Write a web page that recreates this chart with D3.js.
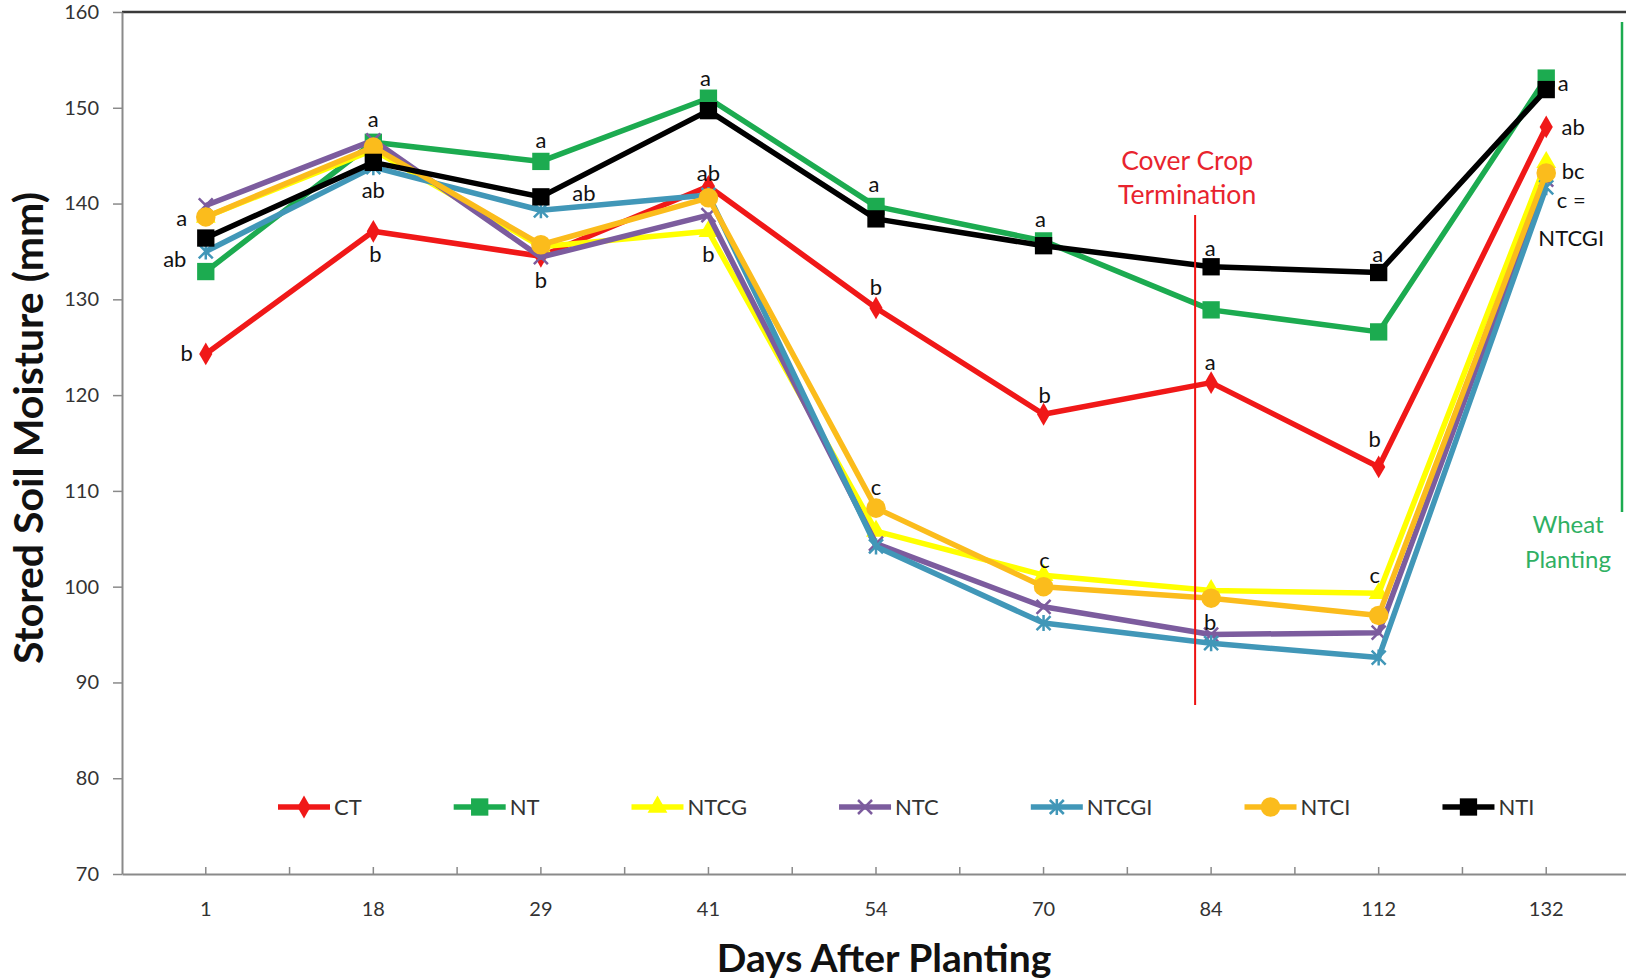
<!DOCTYPE html>
<html>
<head>
<meta charset="utf-8">
<script src="https://cdn.jsdelivr.net/npm/d3@7"></script>
<style>
  html, body { margin: 0; padding: 0; background: #fff; }
  svg { display: block; font-family: Lato, "Noto Sans", sans-serif; }
</style>
</head>
<body>
<svg id="chart" width="1626" height="980"></svg>
<script>
// ---- data ----
const days = ["1", "18", "29", "41", "54", "70", "84", "112", "132"];
const seriesNames = ["CT", "NT", "NTCG", "NTC", "NTCGI", "NTCI", "NTI"];
const CT    = [124.3, 137.1, 134.5, 141.8, 129.1, 118.0, 121.3, 112.5, 148.0];
const NT    = [132.9, 146.4, 144.4, 151.0, 139.7, 136.1, 128.9, 126.6, 153.1];
const NTCG  = [138.6, 145.6, 135.5, 137.1, 105.8, 101.2,  99.6,  99.3, 144.3];
const NTC   = [139.8, 146.6, 134.4, 138.8, 104.5,  97.9,  95.0,  95.2, 142.5];
const NTCGI = [135.0, 143.8, 139.3, 140.9, 104.2,  96.2,  94.1,  92.6, 141.7];
const NTCI  = [138.6, 145.9, 135.7, 140.6, 108.2, 100.0,  98.8,  97.0, 143.2];
const NTI   = [136.4, 144.3, 140.7, 149.7, 138.4, 135.6, 133.4, 132.8, 151.9];
const yTicks = [70, 80, 90, 100, 110, 120, 130, 140, 150, 160];

// significance letters: [day, value position, text, horizontal shift]
const letterDays   = ["1","1","1","18","18","18","29","29","29","41","41","41","54","54","54","70","70","70","84","84","84","112","112","112","132","132","132","132","132"];
const letterValues = [138.5,134.2,124.4,148.8,141.4,134.7,146.6,141.1,132.0,153.1,143.2,134.7,142.0,131.3,110.4,138.4,120.0,102.8,135.3,123.4,96.3,134.7,115.4,101.2,152.6,148.0,143.4,140.3,136.4];
const letterTexts  = ["a","ab","b","a","ab","b","a","ab","b","a","ab","b","a","b","c","a","b","c","a","a","b","a","b","c","a","ab","bc","c =","NTCGI"];
const letterShift  = [-24,-31,-19,0,0,2,0,43,0,-3,0,0,-2,0,0,-3,1,1,-1,-1,-1,-1,-4,-4,17,27,27,25,25];

// ---- layout ----
const svg = d3.select("#chart");
const W = 1626, H = 980;
const x = d3.scaleBand().domain(days).range([122, 1630]).paddingInner(0).paddingOuter(0);
const y = d3.scaleLinear().domain([70, 160]).range([874, 12]);
const cx = d => x(d) + x.bandwidth() / 2;

const colors = {
  CT: "#f01818", NT: "#1cab50", NTCG: "#ffff00", NTC: "#7c5c9e",
  NTCGI: "#4197b8", NTCI: "#fbbc1c", NTI: "#000000"
};
const dataMap = { CT, NT, NTCG, NTC, NTCGI, NTCI, NTI };

// top border
svg.append("line").attr("x1", 122).attr("x2", W).attr("y1", y(160)).attr("y2", y(160))
  .attr("stroke", "#3a3a3a").attr("stroke-width", 2.5);

// y axis
const yAxis = svg.append("g").attr("transform", "translate(122,0)")
  .call(d3.axisLeft(y).tickValues(yTicks).tickSizeInner(9).tickSizeOuter(0).tickPadding(14));
yAxis.select(".domain").attr("stroke", "#8a8a8a").attr("stroke-width", 2);
yAxis.selectAll(".tick line").attr("stroke", "#8a8a8a").attr("stroke-width", 1.5);
yAxis.selectAll(".tick text").attr("font-size", 20).attr("fill", "#333").attr("font-family", "Lato, sans-serif");

// x axis
const xAxis = svg.append("g").attr("transform", `translate(0,${y(70)})`)
  .call(d3.axisBottom(x).tickSizeInner(-7).tickSizeOuter(0).tickPadding(28));
xAxis.select(".domain").attr("stroke", "#8a8a8a").attr("stroke-width", 2);
xAxis.selectAll(".tick line").attr("stroke", "#8a8a8a").attr("stroke-width", 1.5);
xAxis.selectAll(".tick text").attr("font-size", 20).attr("fill", "#333").attr("font-family", "Lato, sans-serif");
// boundary ticks
xAxis.selectAll(".bt").data(days.slice(1)).enter().append("line")
  .attr("x1", d => x(d)).attr("x2", d => x(d)).attr("y1", 0).attr("y2", -7)
  .attr("stroke", "#8a8a8a").attr("stroke-width", 1.5);

// axis titles
svg.append("text").attr("transform", `translate(43,428) rotate(-90)`)
  .attr("text-anchor", "middle").attr("font-weight", "bold").attr("font-size", 41)
  .attr("fill", "#111").text("Stored Soil Moisture (mm)");
svg.append("text").attr("x", 884).attr("y", 972)
  .attr("text-anchor", "middle").attr("font-weight", "bold").attr("font-size", 39)
  .attr("fill", "#111").text("Days After Planting");

// markers
function markerPath(name) {
  switch (name) {
    case "CT": return d3.symbol(d3.symbolDiamond, 150)();
    case "NT": return d3.symbol(d3.symbolSquare, 300)();
    case "NTCG": return d3.symbol(d3.symbolTriangle, 170)();
    case "NTCI": return d3.symbol(d3.symbolCircle, 300)();
    case "NTI": return d3.symbol(d3.symbolSquare, 300)();
    case "NTC": { const s = 7; return `M${-s},${-s}L${s},${s}M${-s},${s}L${s},${-s}`; }
    case "NTCGI": { const s = 7; return `M${-s},${-s}L${s},${s}M${-s},${s}L${s},${-s}M0,${-s - 1}L0,${s + 1}`; }
  }
}
const strokeMarker = n => n === "NTC" || n === "NTCGI";

// lines
const line = d3.line().x((d, i) => cx(days[i])).y(d => y(d));
seriesNames.forEach(name => {
  const g = svg.append("g").attr("class", "series-" + name);
  g.append("path").datum(dataMap[name]).attr("d", line)
    .attr("fill", "none").attr("stroke", colors[name]).attr("stroke-width", 5.5)
    .attr("stroke-linejoin", "round");
  g.selectAll("path.m").data(dataMap[name]).enter().append("path").attr("class", "m")
    .attr("transform", (d, i) => `translate(${cx(days[i])},${y(d)})`)
    .attr("d", markerPath(name))
    .attr("fill", strokeMarker(name) ? "none" : colors[name])
    .attr("stroke", colors[name]).attr("stroke-width", strokeMarker(name) ? 2.5 : 0);
});

// significance letters
svg.append("g").selectAll("text").data(letterTexts).enter().append("text")
  .attr("x", (t, i) => cx(letterDays[i]) + letterShift[i])
  .attr("y", (t, i) => y(letterValues[i]))
  .attr("dy", "0.35em").attr("text-anchor", "middle")
  .attr("font-size", 22).attr("fill", "#111").text(t => t);

// cover crop termination
svg.append("line").attr("x1", cx("84") - 16).attr("x2", cx("84") - 16)
  .attr("y1", 215).attr("y2", 705).attr("stroke", "#ee1111").attr("stroke-width", 2);
svg.append("text").attr("x", cx("84") - 24).attr("y", 170).attr("text-anchor", "middle")
  .attr("font-size", 26.5).attr("fill", "#e8242e").text("Cover Crop");
svg.append("text").attr("x", cx("84") - 24).attr("y", 204).attr("text-anchor", "middle")
  .attr("font-size", 26.5).attr("fill", "#e8242e").text("Termination");

// wheat planting
svg.append("line").attr("x1", 1622).attr("x2", 1622).attr("y1", 22).attr("y2", 512)
  .attr("stroke", "#1cab50").attr("stroke-width", 2.5);
svg.append("text").attr("x", 1568).attr("y", 533).attr("text-anchor", "middle")
  .attr("font-size", 24).attr("fill", "#2fb063").text("Wheat");
svg.append("text").attr("x", 1568).attr("y", 568).attr("text-anchor", "middle")
  .attr("font-size", 24).attr("fill", "#2fb063").text("Planting");

// legend
const legend = svg.append("g").attr("transform", "translate(0,807)");
let lx = 278;
seriesNames.forEach(name => {
  const g = legend.append("g").attr("transform", `translate(${lx},0)`);
  g.append("line").attr("x1", 0).attr("x2", 52).attr("y1", 0).attr("y2", 0)
    .attr("stroke", colors[name]).attr("stroke-width", 5.5);
  g.append("path").attr("transform", "translate(26,0)").attr("d", markerPath(name))
    .attr("fill", strokeMarker(name) ? "none" : colors[name])
    .attr("stroke", colors[name]).attr("stroke-width", strokeMarker(name) ? 2.5 : 0);
  const t = g.append("text").attr("x", 56).attr("dy", "0.35em").attr("font-size", 22)
    .attr("fill", "#333").text(name);
  lx += 56 + t.node().getComputedTextLength() + 92;
});
</script>
</body>
</html>
